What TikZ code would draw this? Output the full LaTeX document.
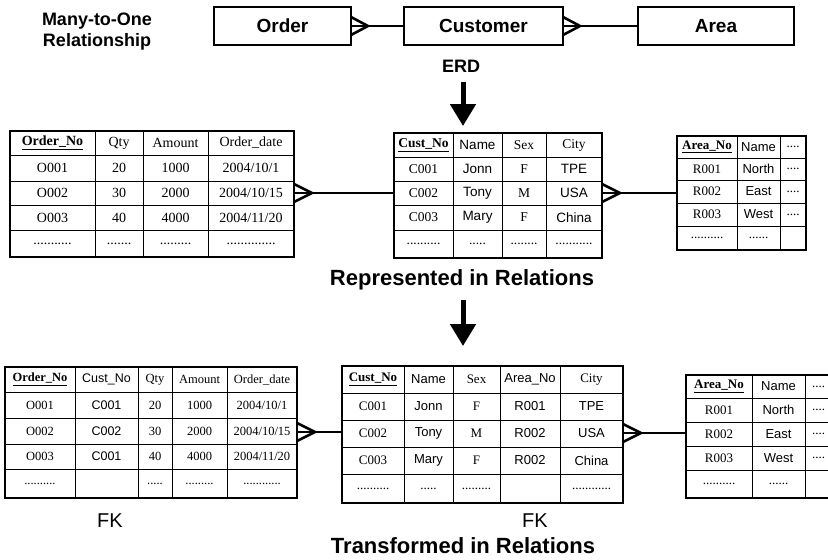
\documentclass[tikz,border=0pt]{standalone}
\usepackage{fontspec}
\setmainfont{Liberation Serif}
\setsansfont{Liberation Sans}
\usetikzlibrary{arrows.meta}

\newcommand\hd[1]{\textbf{\underline{#1}}}
\newcommand\sa{\sffamily}
\newcommand\fs[1]{\fontsize{#1}{#1}\selectfont}

% one row of a table: #1 table name, #2 row index, #3 y of the row centre, #4 list x/text
\newcommand\trow[4]{%
  \foreach \cx/\ct [count=\ci] in {#4}
    \node[cell] (#1-#2-\ci) at (\cx,#3) {\ct};}

% outer frame of a table: #1 name, #2 x0, #3 y0, #4 x1, #5 y1
\newcommand\tframe[5]{%
  \node[tbl, minimum width={#4-#2}, minimum height={#5-#3}]
    (#1) at ({(#2+#4)/2},{(#3+#5)/2}) {};}

% crow's foot link: #1 coordinate on the many side, #2 node on the one side
\newcommand\crowfoot[2]{%
  \draw[conn] (#1) -- (#1 -| #2.west);
  \draw[conn] (#1) ++(0,-9) -- ++(18,9) -- ++(-18,9);}

\begin{document}
\begin{tikzpicture}[x=1pt,y=-1pt,
  tbl/.style={draw, line width=1.3pt, inner sep=0pt, outer sep=0pt},
  gl/.style={line width=1pt},
  cell/.style={inner sep=0pt, anchor=center},
  entity/.style={draw, line width=2.5pt, inner sep=0pt, outer sep=0pt,
    minimum height=38, font=\fs{19}\sffamily\bfseries},
  conn/.style={line width=2.6pt, line join=miter},
  bigarrow/.style={line width=5pt, -{Triangle[width=25pt,length=22pt]}},
  label/.style={anchor=base, font=\fs{18}\sffamily\bfseries},
  heading/.style={anchor=base, font=\fs{22}\sffamily\bfseries},
  fk/.style={anchor=base, font=\fs{20}\sffamily}]
\useasboundingbox (0,0) rectangle (828,560);
\clip (0,0) rectangle (828,560);

% ---------------- ERD ----------------
\node[label] (mto1) at (97,25) {Many-to-One};
\node[label] (mto2) at (97,46) {Relationship};
\node[entity, minimum width=137] (order) at (282.5,26) {Order};
\node[entity, minimum width=159] (customer) at (483.5,26) {Customer};
\node[entity, minimum width=156] (area) at (716,26) {Area};
\draw[conn] (order.east) -- (customer.west);
\draw[conn] (order.east) ++(0,-9) -- ++(17,9) -- ++(-17,9);
\draw[conn] (customer.east) -- (area.west);
\draw[conn] (customer.east) ++(0,-9) -- ++(17,9) -- ++(-17,9);
\node[label] (erd) at (461,72) {ERD};
\coordinate (a1s) at (463,82);
\coordinate (a1e) at (463,126);
\draw[bigarrow] (a1s) -- (a1e);

% ---------------- relations ----------------
% Order
\tframe{mo}{10}{131}{294}{257}
\foreach \x in {95,143,208} \draw[gl] (\x,131) -- (\x,257);
\foreach \y in {155,181,205,230} \draw[gl] (10,\y) -- (294,\y);
\begin{scope}[every node/.append style={font=\fs{14}}]
\trow{mo}{0}{143}{52.5/\hd{Order\_No}, 119/Qty, 175.5/Amount, 251/Order\_date}
\trow{mo}{1}{168}{52.5/O001, 119/20, 175.5/1000, 251/{2004/10/1}}
\trow{mo}{2}{193}{52.5/O002, 119/30, 175.5/2000, 251/{2004/10/15}}
\trow{mo}{3}{217.5}{52.5/O003, 119/40, 175.5/4000, 251/{2004/11/20}}
\trow{mo}{4}{243.5}{52.5/{...........}, 119/{.......}, 175.5/{.........}, 251/{..............}}
\end{scope}

% Customer
\tframe{mc}{394}{133}{602}{258}
\foreach \x in {453,502,546} \draw[gl] (\x,133) -- (\x,258);
\foreach \y in {157,181,205,230} \draw[gl] (394,\y) -- (602,\y);
\begin{scope}[every node/.append style={font=\fs{13.5}}]
\trow{mc}{0}{145}{423.5/\hd{Cust\_No}, 477.5/\sa Name, 524/Sex, 574/City}
\trow{mc}{1}{169}{423.5/C001, 477.5/\sa Jonn, 524/F, 574/\sa TPE}
\trow{mc}{2}{193}{423.5/C002, 477.5/\sa Tony, 524/M, 574/\sa USA}
\trow{mc}{3}{217.5}{423.5/C003, 477.5/\sa Mary, 524/F, 574/\sa China}
\trow{mc}{4}{244}{423.5/{..........}, 477.5/{.....}, 524/{........}, 574/{...........}}
\end{scope}

% Area
\tframe{ma}{677}{136}{806}{250}
\foreach \x in {737,780} \draw[gl] (\x,136) -- (\x,250);
\foreach \y in {158,180,203,226} \draw[gl] (677,\y) -- (806,\y);
\begin{scope}[every node/.append style={font=\fs{13}}]
\trow{ma}{0}{147}{707/\hd{Area\_No}, 758.5/\sa Name, 793/{....}}
\trow{ma}{1}{169}{707/R001, 758.5/\sa North, 793/{....}}
\trow{ma}{2}{191.5}{707/R002, 758.5/\sa East, 793/{....}}
\trow{ma}{3}{214.5}{707/R003, 758.5/\sa West, 793/{....}}
\trow{ma}{4}{238}{707/{..........}, 758.5/{......}}
\end{scope}

\coordinate (mo-c) at (294,193);
\crowfoot{mo-c}{mc}
\coordinate (mc-c) at (602,193);
\crowfoot{mc-c}{ma}

\node[heading] (rep) at (462,285) {Represented in Relations};
\coordinate (a2s) at (463,300);
\coordinate (a2e) at (463,346);
\draw[bigarrow] (a2s) -- (a2e);

% ---------------- transformed relations ----------------
% Order
\tframe{bo}{5}{367}{297}{498}
\foreach \x in {75,138,172,227} \draw[gl] (\x,367) -- (\x,498);
\foreach \y in {392,418,444,469} \draw[gl] (5,\y) -- (297,\y);
\begin{scope}[every node/.append style={font=\fs{12.5}}]
\trow{bo}{0}{379.5}{40/\hd{Order\_No}, 106.5/\sa Cust\_No, 155/Qty, 199.5/Amount, 262/Order\_date}
\trow{bo}{1}{405}{40/O001, 106.5/\sa C001, 155/20, 199.5/1000, 262/{2004/10/1}}
\trow{bo}{2}{431}{40/O002, 106.5/\sa C002, 155/30, 199.5/2000, 262/{2004/10/15}}
\trow{bo}{3}{456.5}{40/O003, 106.5/\sa C001, 155/40, 199.5/4000, 262/{2004/11/20}}
\trow{bo}{4}{483.5}{40/{..........}, 155/{.....}, 199.5/{.........}, 262/{............}}
\end{scope}

% Customer
\tframe{bc}{342}{366}{623}{503}
\foreach \x in {404,453,500,560} \draw[gl] (\x,366) -- (\x,503);
\foreach \y in {393,420,447,474} \draw[gl] (342,\y) -- (623,\y);
\begin{scope}[every node/.append style={font=\fs{13}}]
\trow{bc}{0}{379.5}{373/\hd{Cust\_No}, 428.5/\sa Name, 476.5/Sex, 530/\sa Area\_No, 591.5/City}
\trow{bc}{1}{406.5}{373/C001, 428.5/\sa Jonn, 476.5/F, 530/\sa R001, 591.5/\sa TPE}
\trow{bc}{2}{433.5}{373/C002, 428.5/\sa Tony, 476.5/M, 530/\sa R002, 591.5/\sa USA}
\trow{bc}{3}{460.5}{373/C003, 428.5/\sa Mary, 476.5/F, 530/\sa R002, 591.5/\sa China}
\trow{bc}{4}{488.5}{373/{..........}, 428.5/{.....}, 476.5/{.........}, 591.5/{............}}
\end{scope}

% Area
\tframe{ba}{686}{375}{832}{498}
\foreach \x in {752,805} \draw[gl] (\x,375) -- (\x,498);
\foreach \y in {398,422,446,470} \draw[gl] (686,\y) -- (832,\y);
\begin{scope}[every node/.append style={font=\fs{13}}]
\trow{ba}{0}{386.5}{719/\hd{Area\_No}, 778.5/\sa Name, 818.5/{....}}
\trow{ba}{1}{410}{719/R001, 778.5/\sa North, 818.5/{....}}
\trow{ba}{2}{434}{719/R002, 778.5/\sa East, 818.5/{....}}
\trow{ba}{3}{458}{719/R003, 778.5/\sa West, 818.5/{....}}
\trow{ba}{4}{484}{719/{..........}, 778.5/{......}}
\end{scope}

\coordinate (bo-c) at (297,432);
\crowfoot{bo-c}{bc}
\coordinate (bc-c) at (623,433);
\crowfoot{bc-c}{ba}

\node[fk] (fk1) at (110,527) {FK};
\node[fk] (fk2) at (535,527) {FK};
\node[heading] (trans) at (463,553) {Transformed in Relations};
\end{tikzpicture}
\end{document}
